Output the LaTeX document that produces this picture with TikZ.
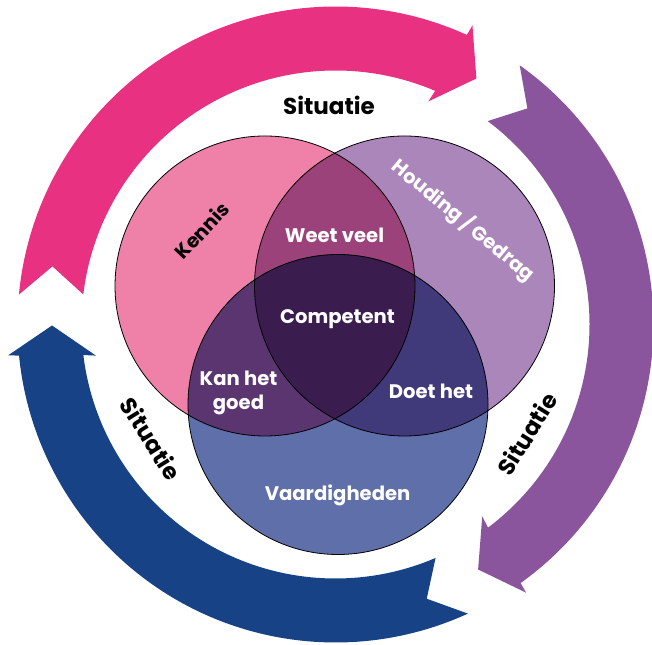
\documentclass[tikz,border=0pt]{standalone}
\usepackage{fontspec}
\setmainfont{Poppins}
\definecolor{pinkA}{HTML}{E93182}
\definecolor{purpleA}{HTML}{8A559C}
\definecolor{blueA}{HTML}{184286}
\definecolor{pinkC}{HTML}{EF80A8}
\definecolor{purpleC}{HTML}{AA86BB}
\definecolor{blueC}{HTML}{5F6FA9}
\definecolor{kwC}{HTML}{9C427A}
\definecolor{kbC}{HTML}{5B3570}
\definecolor{pbC}{HTML}{40397A}
\definecolor{allC}{HTML}{3B1C4F}
\begin{document}
\begin{tikzpicture}[x=1pt,y=1pt,
  lbl/.style={font=\fontsize{19.6}{24}\selectfont\bfseries, inner sep=0pt},
  sitlbl/.style={font=\fontsize{23}{28}\selectfont\bfseries, inner sep=0pt, text=black},
  venn/.style={draw=black, line width=0.8pt}]
\useasboundingbox (0,0) rectangle (652,644);
% circular arrows
\foreach \rot/\col in {0/pinkA, -120/purpleA, -240/blueA} {
  \begin{scope}[shift={(335.5,319.5)}, rotate=\rot]
    \fill[\col] (174.6:318) arc[start angle=174.6, end angle=65.6, radius=318]
      -- (65.4:329) -- (60.2:283.5) -- (67.4:241.6) -- (66.9:254)
      arc[start angle=66.9, end angle=173.2, radius=254]
      -- (168.4:289) -- cycle;
  \end{scope}
}
% venn
\coordinate (K) at (265,358);
\coordinate (H) at (404.5,358);
\coordinate (V) at (338,239.5);
\fill[pinkC] (K) circle[radius=150];
\fill[purpleC] (H) circle[radius=150];
\fill[blueC] (V) circle[radius=150];
\begin{scope}
  \clip (K) circle[radius=150];
  \fill[kwC] (H) circle[radius=150];
  \fill[kbC] (V) circle[radius=150];
\end{scope}
\begin{scope}
  \clip (H) circle[radius=150];
  \fill[pbC] (V) circle[radius=150];
\end{scope}
\begin{scope}
  \clip (K) circle[radius=150];
  \clip (H) circle[radius=150];
  \fill[allC] (V) circle[radius=150];
\end{scope}
\draw[venn] (K) circle[radius=150];
\draw[venn] (H) circle[radius=150];
\draw[venn] (V) circle[radius=150];
% labels
\node[sitlbl, anchor=base] (sitTop) at (329,529) {Situatie};
\node[sitlbl, rotate=-58] (sitLeft) at (151,205) {Situatie};
\node[sitlbl, rotate=58] (sitRight) at (527,210) {Situatie};
\node[lbl, text=black, rotate=47] (kennis) at (201.7,413.5) {Kennis};
\node[lbl, text=white, rotate=-39.5] (houding) at (463.5,423.5) {Houding / Gedrag};
\node[lbl, text=white, anchor=base] (weet) at (334.5,401.7) {Weet veel};
\node[lbl, text=white, anchor=base] (comp) at (337.5,320) {Competent};
\node[lbl, text=white, align=center] (kan) at (238.5,251) {Kan het\\goed};
\node[lbl, text=white, anchor=base] (doet) at (431,245.7) {Doet het};
\node[lbl, text=white, anchor=base] (vaard) at (337.6,143.3) {Vaardigheden};
\end{tikzpicture}
\end{document}
